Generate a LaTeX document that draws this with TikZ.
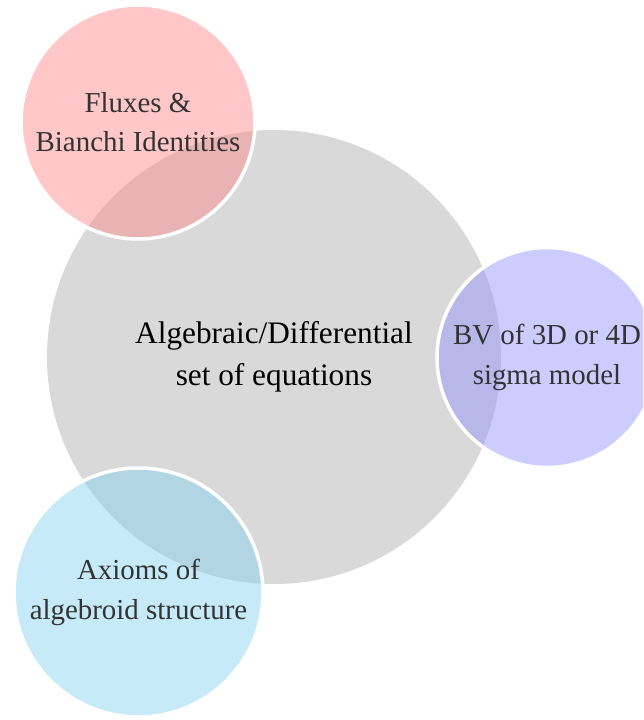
\documentclass[tikz,border=0pt]{standalone}
\usepackage{fontspec}
\setmainfont{Liberation Serif}
\definecolor{bigfill}{HTML}{D9D9D9}
\definecolor{redc}{RGB}{255,133,133}
\definecolor{bluec}{RGB}{142,142,255}
\definecolor{cyanc}{RGB}{129,209,240}
\definecolor{txtdark}{HTML}{333333}
\tikzset{
  bigcircle/.style={circle, inner sep=0pt, minimum size=454pt, fill=bigfill, align=center,
    font=\fontsize{31.3}{42}\selectfont, text=black},
  smallcircle/.style={circle, inner sep=0pt, draw=white, line width=3.5pt, draw opacity=1,
    fill opacity=0.45, text opacity=1, align=center, text=txtdark,
    font=\fontsize{28.9}{39.5}\selectfont}
}
\begin{document}
\begin{tikzpicture}[x=1pt,y=-1pt]
\useasboundingbox (0,0) rectangle (643,720);
\clip (0,0) rectangle (643,720);
\fill[white] (0,0) rectangle (643,720);
\node[bigcircle] (eq) at (274,357) {Algebraic/Differential\\set of equations};
\node[smallcircle, fill=redc, minimum size=234pt] (flux) at (138,122) {Fluxes \&\\Bianchi Identities};
\node[smallcircle, fill=bluec, minimum size=220pt] (bv) at (547,357.5) {BV of 3D or 4D\\sigma model};
\node[smallcircle, fill=cyanc, minimum size=249pt] (ax) at (138.5,592.5) {Axioms of\\algebroid structure};
\end{tikzpicture}
\end{document}
